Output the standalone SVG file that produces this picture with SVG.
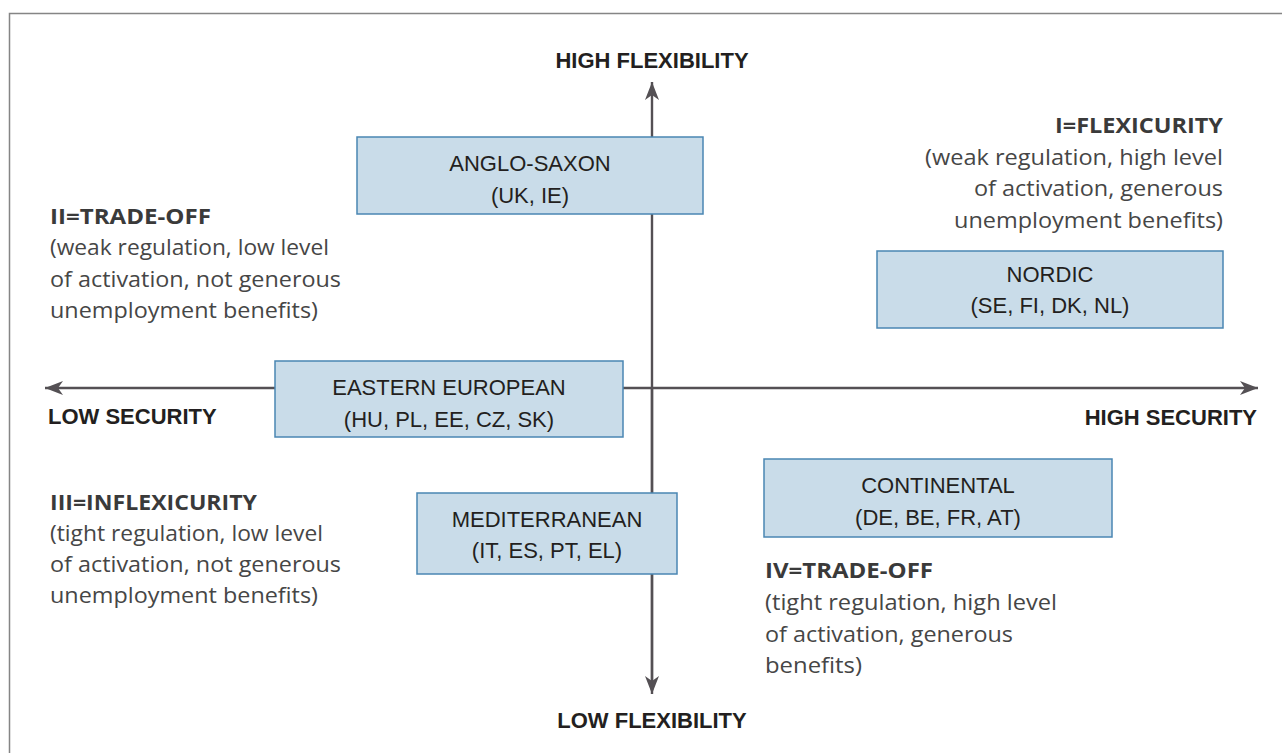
<svg xmlns="http://www.w3.org/2000/svg" width="1282" height="753" viewBox="0 0 1282 753">
<style>
.box{fill:#c9dce9;stroke:#4a86b3;stroke-width:1.5}
.bt{font-family:"Liberation Sans",Arial,sans-serif;font-size:22px;fill:#231f20;text-anchor:middle}
.ax{font-family:"Liberation Sans",Arial,sans-serif;font-size:22px;font-weight:bold;fill:#231f20}
.qt{font-family:"Open Sans","Liberation Sans",sans-serif;font-size:21px;font-weight:bold;fill:#3a3a3a}
.qb{font-family:"Open Sans","Liberation Sans",sans-serif;font-size:21px;fill:#464646}
.axis{stroke:#545054;stroke-width:2.4;fill:none}
</style>
<defs>
<marker id="ah" markerUnits="userSpaceOnUse" markerWidth="20" markerHeight="16" viewBox="0 0 20 16" refX="18" refY="8" orient="auto">
<path d="M0,1 L18,8 L0,15 L5,8 Z" fill="#545054"/>
</marker>
</defs>
<rect x="0" y="0" width="1282" height="753" fill="#ffffff"/>
<path d="M9.5,753 V13.5 H1282" fill="none" stroke="#858585" stroke-width="1.5"/>
<g id="connectors">
<line class="axis" x1="652" y1="690" x2="652" y2="82" marker-end="url(#ah)"/>
<line class="axis" x1="652" y1="388" x2="652" y2="694" marker-end="url(#ah)"/>
<line class="axis" x1="652" y1="388" x2="45" y2="388" marker-end="url(#ah)"/>
<line class="axis" x1="652" y1="388" x2="1258" y2="388" marker-end="url(#ah)"/>
</g>
<g id="axis-labels">
<text class="ax" x="652" y="68" text-anchor="middle">HIGH FLEXIBILITY</text>
<text class="ax" x="652" y="728" text-anchor="middle">LOW FLEXIBILITY</text>
<text class="ax" x="48" y="424">LOW SECURITY</text>
<text class="ax" x="1257" y="425" text-anchor="end">HIGH SECURITY</text>
</g>
<g id="anglo-saxon">
<rect class="box" x="357" y="137" width="346" height="77"/>
<text class="bt" x="530" y="171">ANGLO-SAXON</text>
<text class="bt" x="530" y="203">(UK, IE)</text>
</g>
<g id="nordic">
<rect class="box" x="877" y="251" width="346" height="77"/>
<text class="bt" x="1050" y="282">NORDIC</text>
<text class="bt" x="1050" y="313">(SE, FI, DK, NL)</text>
</g>
<g id="eastern-european">
<rect class="box" x="275" y="361" width="348" height="76"/>
<text class="bt" x="449" y="395">EASTERN EUROPEAN</text>
<text class="bt" x="449" y="427">(HU, PL, EE, CZ, SK)</text>
</g>
<g id="mediterranean">
<rect class="box" x="417" y="493" width="260" height="81"/>
<text class="bt" x="547" y="527">MEDITERRANEAN</text>
<text class="bt" x="547" y="558">(IT, ES, PT, EL)</text>
</g>
<g id="continental">
<rect class="box" x="764" y="459" width="348" height="78"/>
<text class="bt" x="938" y="493">CONTINENTAL</text>
<text class="bt" x="938" y="525">(DE, BE, FR, AT)</text>
</g>
<g id="quadrant-1">
<text class="qt" x="1223" y="133" text-anchor="end" textLength="168" lengthAdjust="spacingAndGlyphs">I=FLEXICURITY</text>
<text class="qb" x="1223" y="164.5" text-anchor="end" textLength="298" lengthAdjust="spacingAndGlyphs">(weak regulation, high level</text>
<text class="qb" x="1223" y="196" text-anchor="end" textLength="249" lengthAdjust="spacingAndGlyphs">of activation, generous</text>
<text class="qb" x="1223" y="228" text-anchor="end" textLength="269" lengthAdjust="spacingAndGlyphs">unemployment benefits)</text>
</g>
<g id="quadrant-2">
<text class="qt" x="50" y="224" textLength="161" lengthAdjust="spacingAndGlyphs">II=TRADE-OFF</text>
<text class="qb" x="50" y="255" textLength="279" lengthAdjust="spacingAndGlyphs">(weak regulation, low level</text>
<text class="qb" x="50" y="287" textLength="291" lengthAdjust="spacingAndGlyphs">of activation, not generous</text>
<text class="qb" x="50" y="318" textLength="268" lengthAdjust="spacingAndGlyphs">unemployment benefits)</text>
</g>
<g id="quadrant-3">
<text class="qt" x="50" y="510" textLength="207" lengthAdjust="spacingAndGlyphs">III=INFLEXICURITY</text>
<text class="qb" x="50" y="541" textLength="273" lengthAdjust="spacingAndGlyphs">(tight regulation, low level</text>
<text class="qb" x="50" y="572" textLength="291" lengthAdjust="spacingAndGlyphs">of activation, not generous</text>
<text class="qb" x="50" y="603" textLength="268" lengthAdjust="spacingAndGlyphs">unemployment benefits)</text>
</g>
<g id="quadrant-4">
<text class="qt" x="765" y="578" textLength="168" lengthAdjust="spacingAndGlyphs">IV=TRADE-OFF</text>
<text class="qb" x="765" y="610" textLength="292" lengthAdjust="spacingAndGlyphs">(tight regulation, high level</text>
<text class="qb" x="765" y="642" textLength="248" lengthAdjust="spacingAndGlyphs">of activation, generous</text>
<text class="qb" x="765" y="673" textLength="97" lengthAdjust="spacingAndGlyphs">benefits)</text>
</g>
</svg>
